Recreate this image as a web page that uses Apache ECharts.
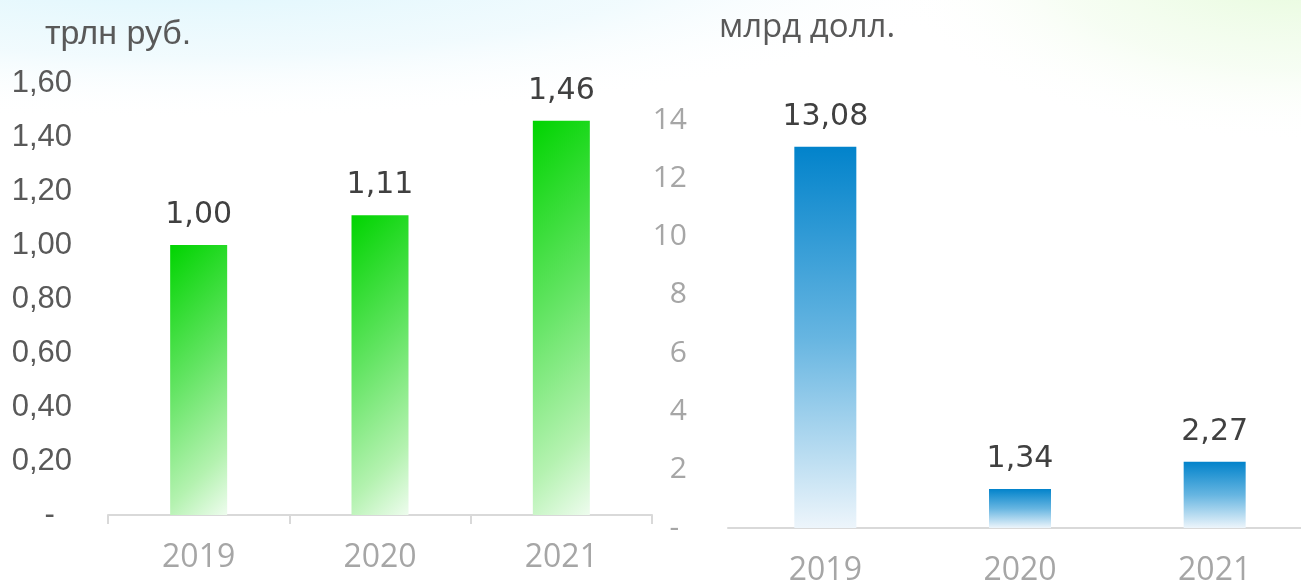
<!DOCTYPE html>
<html>
<head>
<meta charset="utf-8">
<script src="https://cdn.jsdelivr.net/npm/echarts@6/dist/echarts.min.js"></script>
<style>
  html, body { margin: 0; padding: 0; background: #fff; overflow: hidden; }
  /* the right axis runs past the window edge, so the canvas is a bit wider */
  #main { width: 1312px; height: 582px; }
</style>
</head>
<body>
<div id="main"></div>
<script>
// categories and values
const years = ['2019', '2020', '2021'];
const rubValues = [1.00, 1.11, 1.46];     // трлн руб.
const usdValues = [13.08, 1.34, 2.27];    // млрд долл.
const rubTicks = { min: 0, max: 1.6, interval: 0.2 };
const usdTicks = { min: 0, max: 14, interval: 2 };

const chart = echarts.init(document.getElementById('main'));

// grid geometry (left one also used for the diagonal gradient of each bar)
const leftGrid = { left: 108, top: 83, width: 544, height: 432, outerBoundsMode: 'none' };
const rightGrid = { left: 728, top: 120, right: 0, height: 408, outerBoundsMode: 'none' };
const leftBarW = 57;

// green bars: gradient at about 45 degrees, computed per bar
function greenFill(v) {
  let h = v / rubTicks.max * leftGrid.height;
  let s = (leftBarW + h) / 2;
  return {
    type: 'linear', x: 0, y: 0, x2: s / leftBarW, y2: s / h,
    colorStops: [
      { offset: 0, color: '#00d400' },
      { offset: 0.45, color: '#62e462' },
      { offset: 0.8, color: '#b4f2b0' },
      { offset: 1, color: '#eefcee' }
    ]
  };
}

const blueFill = {
  type: 'linear', x: 0, y: 0, x2: 0, y2: 1,
  colorStops: [
    { offset: 0, color: '#0283cb' },
    { offset: 0.5, color: '#66b5e1' },
    { offset: 1, color: '#edf5fb' }
  ]
};

function rubLabel(v) {
  if (v === 0) return '-  ';
  return v.toFixed(2).replace('.', ',');
}
function usdLabel(v) {
  if (v === 0) return '- ';
  return String(v);
}

let option = {
  animation: false,
  backgroundColor: '#ffffff',
  graphic: [
    {
      type: 'circle', z: -10, silent: true,
      shape: { cx: 0, cy: 0, r: 260 },
      x: 180, y: -40, scaleX: 3.2, scaleY: 0.62,
      style: {
        fill: {
          type: 'radial', x: 0.5, y: 0.5, r: 0.5,
          colorStops: [
            { offset: 0, color: 'rgba(214,244,252,0.95)' },
            { offset: 0.6, color: 'rgba(232,248,253,0.6)' },
            { offset: 1, color: 'rgba(255,255,255,0)' }
          ]
        }
      }
    },
    {
      type: 'circle', z: -10, silent: true,
      shape: { cx: 0, cy: 0, r: 260 },
      x: 1300, y: -40, scaleX: 1.6, scaleY: 0.7,
      style: {
        fill: {
          type: 'radial', x: 0.5, y: 0.5, r: 0.5,
          colorStops: [
            { offset: 0, color: 'rgba(224,250,210,0.9)' },
            { offset: 0.6, color: 'rgba(238,252,232,0.5)' },
            { offset: 1, color: 'rgba(255,255,255,0)' }
          ]
        }
      }
    }
  ],
  title: [
    {
      text: 'трлн руб.', left: 40, top: 13,
      textStyle: { fontFamily: 'Liberation Sans', fontSize: 34, fontWeight: 'normal', color: '#595959' }
    },
    {
      text: 'млрд долл.', left: 714, top: 6,
      textStyle: { fontFamily: 'Open Sans', fontSize: 33, fontWeight: 'normal', color: '#595959' }
    }
  ],
  grid: [
    Object.assign({}, leftGrid),
    Object.assign({}, rightGrid)
  ],
  xAxis: [
    {
      type: 'category', gridIndex: 0, data: years,
      axisLine: { lineStyle: { color: '#d9d9d9', width: 2 } },
      axisTick: { show: true, length: 9, lineStyle: { color: '#d9d9d9', width: 2 } },
      axisLabel: { margin: 27, fontFamily: 'Open Sans', fontSize: 32, color: '#a6a6a6' }
    },
    {
      type: 'category', gridIndex: 1, data: years,
      axisLine: { lineStyle: { color: '#d9d9d9', width: 2 } },
      axisTick: { show: false },
      axisLabel: { margin: 27, fontFamily: 'Open Sans', fontSize: 32, color: '#a6a6a6' }
    }
  ],
  yAxis: [
    {
      type: 'value', gridIndex: 0,
      min: rubTicks.min, max: rubTicks.max, interval: rubTicks.interval,
      axisLine: { show: false }, axisTick: { show: false }, splitLine: { show: false },
      axisLabel: { margin: 36, fontFamily: 'Liberation Sans', fontSize: 31, color: '#595959', formatter: rubLabel }
    },
    {
      type: 'value', gridIndex: 1,
      min: usdTicks.min, max: usdTicks.max, interval: usdTicks.interval,
      axisLine: { show: false }, axisTick: { show: false }, splitLine: { show: false },
      axisLabel: { margin: 41, fontFamily: 'Open Sans', fontSize: 30, color: '#a6a6a6', formatter: usdLabel }
    }
  ],
  series: [
    {
      type: 'bar', xAxisIndex: 0, yAxisIndex: 0, barWidth: leftBarW,
      data: rubValues.map(v => ({ value: v, itemStyle: { color: greenFill(v) } })),
      label: {
        show: true, position: 'top', distance: 15,
        fontFamily: 'DejaVu Sans', fontSize: 30, color: '#404040',
        formatter: p => p.value.toFixed(2).replace('.', ',')
      }
    },
    {
      type: 'bar', xAxisIndex: 1, yAxisIndex: 1, barWidth: 62,
      data: usdValues,
      itemStyle: { color: blueFill },
      label: {
        show: true, position: 'top', distance: 15,
        fontFamily: 'DejaVu Sans', fontSize: 30, color: '#404040',
        formatter: p => p.value.toFixed(2).replace('.', ',')
      }
    }
  ]
};

chart.setOption(option);
</script>
</body>
</html>
